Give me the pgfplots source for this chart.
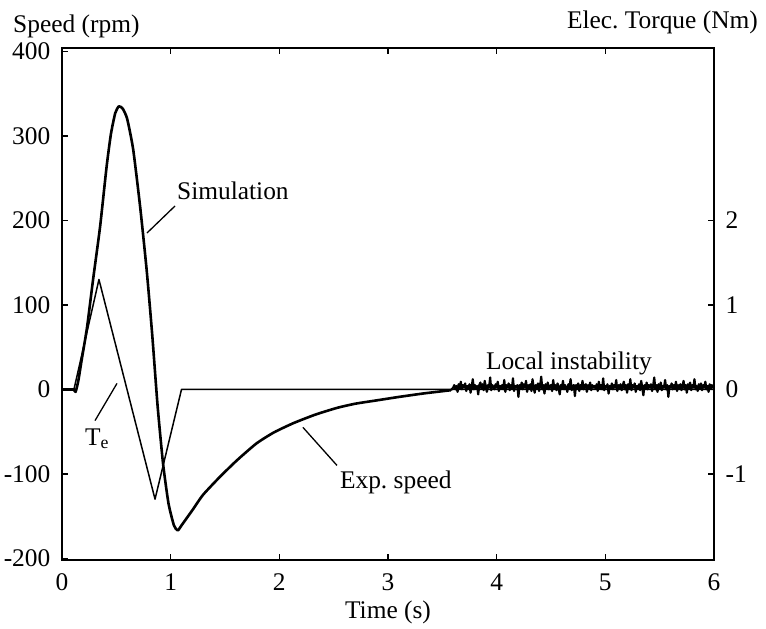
\documentclass[border=0pt]{standalone}
\usepackage{fontspec}
\setmainfont{Liberation Serif}
\usepackage{pgfplots}
\pgfplotsset{compat=1.18}
\frenchspacing
\pgfplotstableread{
t speed
0.11 0
0.125 -3
0.15 10
0.18 34
0.23 73
0.285 129
0.35 192
0.41 263
0.45 302
0.49 327
0.524 335
0.56 332
0.60 320
0.655 284
0.72 215
0.78 140
0.83 65
0.88 -20
0.93 -88
0.98 -135
1.03 -161
1.065 -167
1.10 -161
1.2 -143
1.297 -125
1.45 -104
1.61 -84
1.79 -64
1.95 -51
2.13 -40
2.33 -30
2.53 -22
2.7 -17
2.9 -13
3.1 -9
3.32 -5
3.45 -3
3.58 -1
}\speedtable
\pgfplotstableread{
t speed
3.58 -1
3.60 2
3.61 5
3.62 0
3.63 4
3.64 -3
3.65 6
3.66 1
3.67 9
3.68 0
3.69 5
3.70 2
3.71 7
3.72 -2
3.73 4
3.74 1
3.75 6
3.76 -4
3.77 3
3.78 12
3.79 0
3.80 5
3.81 1
3.82 4
3.83 -6
3.84 5
3.85 8
3.86 1
3.87 6
3.88 -1
3.89 10
3.90 3
3.91 -3
3.92 5
3.93 2
3.94 14
3.95 -1
3.96 5
3.97 3
3.98 0
3.99 6
4.00 2
4.01 9
4.02 -2
4.03 4
4.04 1
4.05 5
4.06 0
4.07 11
4.08 -3
4.09 5
4.10 2
4.11 7
4.12 -1
4.13 5
4.14 1
4.15 13
4.16 -2
4.17 4
4.18 2
4.19 5
4.20 -9
4.21 5
4.22 1
4.23 8
4.24 0
4.25 6
4.26 2
4.27 10
4.28 -3
4.29 5
4.30 1
4.31 6
4.32 -2
4.33 12
4.34 2
4.35 -4
4.36 5
4.37 1
4.38 7
4.39 -2
4.40 4
4.41 15
4.42 0
4.43 5
4.44 -5
4.45 6
4.46 1
4.47 8
4.48 0
4.49 4
4.50 5
4.51 -2
4.52 11
4.53 1
4.54 5
4.55 -1
4.56 7
4.57 2
4.58 -6
4.59 5
4.60 1
4.61 10
4.62 0
4.63 5
4.64 2
4.65 -3
4.66 6
4.67 1
4.68 12
4.69 -1
4.70 4
4.71 5
4.72 -8
4.73 5
4.74 1
4.75 7
4.76 -2
4.77 5
4.78 1
4.79 10
4.80 0
4.81 4
4.82 6
4.83 -3
4.84 5
4.85 1
4.86 8
4.87 -1
4.88 5
4.89 2
4.90 4
4.91 1
4.92 6
4.93 -2
4.94 9
4.95 1
4.96 5
4.97 0
4.98 13
4.99 -1
5.00 4
5.01 2
5.02 6
5.03 -5
5.04 4
5.05 1
5.06 7
5.07 0
5.08 5
5.09 2
5.10 11
5.11 -2
5.12 5
5.13 1
5.14 6
5.15 -1
5.16 4
5.17 9
5.18 0
5.19 5
5.20 -4
5.21 6
5.22 1
5.23 12
5.24 -1
5.25 5
5.26 2
5.27 7
5.28 -3
5.29 4
5.30 1
5.31 6
5.32 -1
5.33 10
5.34 2
5.35 -7
5.36 5
5.37 1
5.38 8
5.39 0
5.40 5
5.41 2
5.42 6
5.43 -2
5.44 4
5.45 14
5.46 0
5.47 5
5.48 -3
5.49 6
5.50 1
5.51 8
5.52 -1
5.53 4
5.54 2
5.55 11
5.56 0
5.57 5
5.58 -9
5.59 4
5.60 2
5.61 7
5.62 0
5.63 5
5.64 1
5.65 9
5.66 -2
5.67 5
5.68 1
5.69 6
5.70 -1
5.71 4
5.72 10
5.73 0
5.74 5
5.75 -4
5.76 6
5.77 1
5.78 8
5.79 -1
5.80 5
5.81 2
5.82 12
5.83 0
5.84 4
5.85 -2
5.86 6
5.87 1
5.88 7
5.89 -1
5.90 5
5.91 2
5.92 9
5.93 0
5.94 4
5.95 -3
5.96 6
5.97 1
5.98 5
5.99 2
6.00 3
}\noisetable
\pgfplotstableread{
t torque
0 0
0.11 0
0.34 1.30
0.856 -1.30
1.10 0
6 0
}\torquetable
\begin{document}
\fontsize{25.5}{30}\selectfont
\begin{tikzpicture}[x=1bp,y=1bp]
\path[use as bounding box] (0,0) rectangle (766,629);
\pgfplotsset{every axis/.append style={
  at={(62bp,69bp)}, anchor=south west,
  width=652bp, height=512bp, scale only axis,
  xmin=0, xmax=6,
  tick align=inside, major tick length=6bp,
  tick style={line width=1.4bp, black},
  axis line style={line width=1.8bp},
  font=\fontsize{25.5}{30}\selectfont,
  /pgf/number format/assume math mode=true,
  xticklabel style={yshift=-5bp},
  yticklabel style={xshift=-3bp},
}}
\begin{axis}[
  ymin=-202, ymax=404,
  xtick={0,1,2,3,4,5,6}, ytick={-200,-100,0,100,200,300,400},
  xtick pos=both, ytick pos=left,
  xticklabel pos=left,
]
\addplot[black, line width=2.6bp, line join=round] coordinates {(0,0) (0.11,0)};
\addplot[black, line width=2.6bp, line join=round, smooth, tension=0.35] table[x=t,y=speed] {\speedtable};
\addplot[black, line width=2.2bp, line join=round] table[x=t,y=speed] {\noisetable};
\draw[line width=1.3bp] (axis cs:0.782,185) -- (axis cs:1.04,217);
\draw[line width=1.3bp] (axis cs:0.304,-37) -- (axis cs:0.506,7);
\draw[line width=1.3bp] (axis cs:2.217,-45) -- (axis cs:2.530,-90);
\node[anchor=base west, inner sep=0] at (axis cs:1.058,225) {Simulation};
\node[anchor=base west, inner sep=0] at (axis cs:0.21,-66) {T\textsubscript{e}};
\node[anchor=base west, inner sep=0] at (axis cs:2.557,-117) {Exp. speed};
\node[anchor=base west, inner sep=0] at (axis cs:3.90,23.7) {Local instability};
\end{axis}
\begin{axis}[
  ymin=-2.02, ymax=4.04,
  axis x line=none, axis y line*=right,
  ytick={-1,0,1,2},
  yticklabel style={xshift=6bp},
]
\addplot[black, line width=1.5bp, line join=round] table[x=t,y=torque] {\torquetable};
\end{axis}
\node[anchor=base west, inner sep=0] at (13,596) {Speed (rpm)};
\node[anchor=base east, inner sep=0] at (758,600) {Elec. Torque (Nm)};
\node[anchor=base, inner sep=0] at (388,10) {Time (s)};
\end{tikzpicture}
\end{document}
